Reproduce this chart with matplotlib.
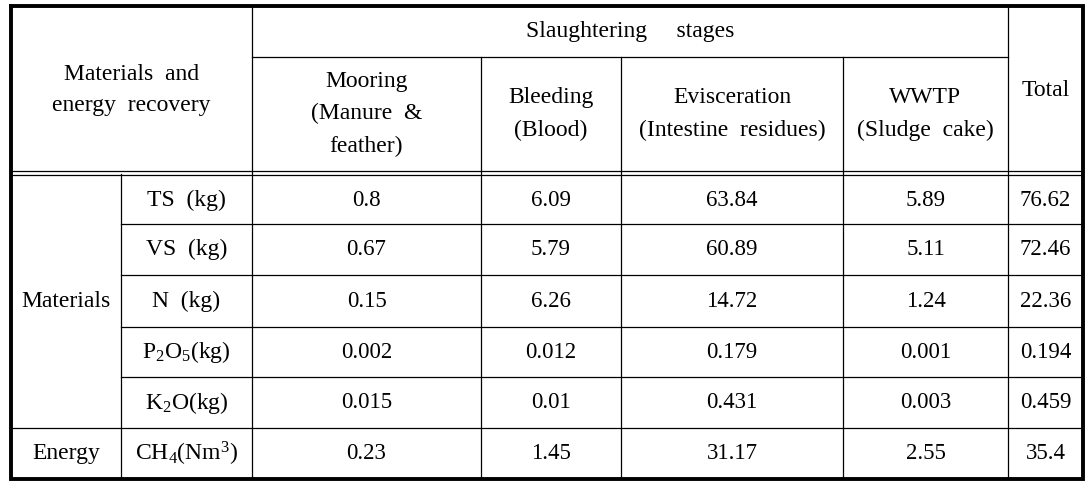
import matplotlib
matplotlib.use("Agg")
import matplotlib.pyplot as plt

plt.rcParams['font.family'] = ['Liberation Serif', 'DejaVu Serif']
plt.rcParams['mathtext.fontset'] = 'custom'
plt.rcParams['mathtext.rm'] = 'Liberation Serif'
plt.rcParams['mathtext.default'] = 'regular'

stages = ["Mooring\n(Manure  &\nfeather)", "Bleeding\n(Blood)",
          "Evisceration\n(Intestine  residues)", "WWTP\n(Sludge  cake)"]
items = ["TS  (kg)", "VS  (kg)", "N  (kg)", r"P$_2$O$_5$(kg)", r"K$_2$O(kg)",
         r"CH$_4$(Nm$^3$)"]
mooring = ["0.8", "0.67", "0.15", "0.002", "0.015", "0.23"]
bleeding = ["6.09", "5.79", "6.26", "0.012", "0.01", "1.45"]
evisceration = ["63.84", "60.89", "14.72", "0.179", "0.431", "31.17"]
wwtp = ["5.89", "5.11", "1.24", "0.001", "0.003", "2.55"]
total = ["76.62", "72.46", "22.36", "0.194", "0.459", "35.4"]

# grid geometry in pixels
cols = [11, 121, 252, 481, 621, 843, 1008, 1083]
rows = [174, 224, 275, 327, 377, 428, 479]
top, mid = 6, 57

fig = plt.figure(figsize=(10.91, 4.86), dpi=100)
ax = fig.add_axes([0, 0, 1, 1])
ax.set_xlim(0, 1091)
ax.set_ylim(486, 0)
ax.axis('off')

thin = dict(color='black', lw=0.9)
# header lines
ax.plot([cols[2], cols[6]], [mid, mid], **thin)
ax.plot([cols[0], cols[7]], [171.5, 171.5], **thin)
ax.plot([cols[0], cols[7]], [175, 175], **thin)
for y in rows[1:5]:
    ax.plot([cols[1], cols[7]], [y, y], **thin)
ax.plot([cols[0], cols[7]], [rows[5], rows[5]], **thin)
ax.plot([cols[1], cols[1]], [rows[0], rows[6]], **thin)
for x in [cols[2], cols[6]]:
    ax.plot([x, x], [top, rows[6]], **thin)
for x in cols[3:6]:
    ax.plot([x, x], [mid, rows[6]], **thin)
# thick outer border
ax.plot([cols[0], cols[7], cols[7], cols[0], cols[0]],
        [top, top, rows[6], rows[6], top], color='black', lw=2.8,
        solid_joinstyle='miter')

fs = 16.5
kw = dict(ha='center', va='center', fontsize=fs, linespacing=1.45)
hk = dict(ha='center', va='center', fontsize=17, linespacing=1.68)
ax.text((cols[0] + cols[2]) / 2, 90, "Materials  and\nenergy  recovery", **hk)
ax.text((cols[2] + cols[6]) / 2, 32, "Slaughtering     stages", **hk)
ax.text((cols[6] + cols[7]) / 2, 90, "Total", **hk)
for i, s in enumerate(stages):
    ax.text((cols[i + 2] + cols[i + 3]) / 2, 114, s, **hk)

ax.text((cols[0] + cols[1]) / 2, (rows[0] + rows[5]) / 2, "Materials", **hk)
ax.text((cols[0] + cols[1]) / 2, (rows[5] + rows[6]) / 2, "Energy", **hk)

columns = [mooring, bleeding, evisceration, wwtp, total]
for r, item in enumerate(items):
    yc = (rows[r] + rows[r + 1]) / 2 + (1 if r == 0 else 0)
    ax.text((cols[1] + cols[2]) / 2, yc, item, **hk)
    for c, vals in enumerate(columns):
        ax.text((cols[c + 2] + cols[c + 3]) / 2, yc, vals[r], **kw)

fig.savefig("out.png", dpi=100)
